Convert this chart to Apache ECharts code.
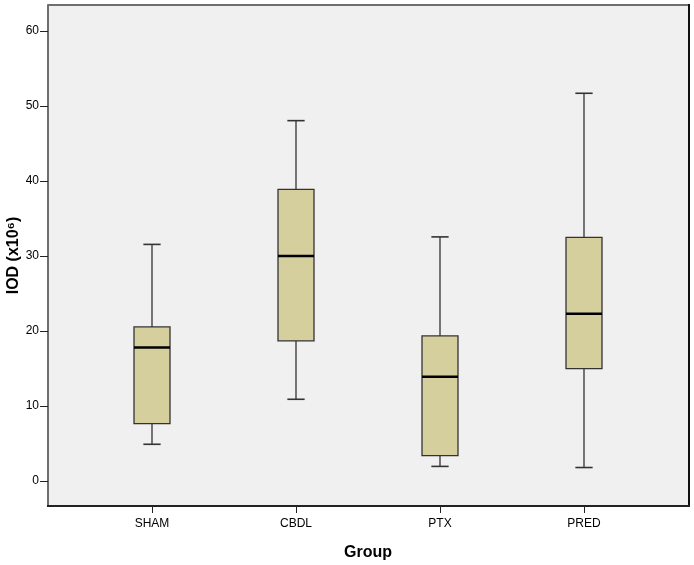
<!DOCTYPE html>
<html><head><meta charset="utf-8">
<script src="https://cdn.jsdelivr.net/npm/echarts@6/dist/echarts.min.js"></script>
<style>html,body{margin:0;padding:0;background:#fff}#c{width:694px;height:565px}</style>
</head><body><div id="c"></div>
<script>
const categories = ['SHAM', 'CBDL', 'PTX', 'PRED'];
// [min, Q1, median, Q3, max]
const mins    = [4.9, 10.9, 1.95, 1.8];
const q1s     = [7.65, 18.7, 3.4, 15.0];
const medians = [17.8, 30.0, 13.9, 22.3];
const q3s     = [20.55, 38.9, 19.35, 32.5];
const maxs    = [31.55, 48.05, 32.55, 51.7];
const yTicks  = [0, 10, 20, 30, 40, 50, 60];

const data = categories.map((c, i) => [i, mins[i], q1s[i], medians[i], q3s[i], maxs[i]]);
const FONT = '"Liberation Sans", Arial, Helvetica, sans-serif';

const chart = echarts.init(document.getElementById('c'));
chart.setOption({
  animation: false,
  backgroundColor: '#ffffff',
  graphic: [
    { type: 'rect', z: -10, silent: true, shape: { x: 48, y: 5, width: 641, height: 501 }, style: { fill: '#f0f0f0' } },
    { type: 'line', z: 10, silent: true, shape: { x1: 48, y1: 5, x2: 689, y2: 5 }, style: { stroke: '#6e6e6e', lineWidth: 2 } },
    { type: 'line', z: 10, silent: true, shape: { x1: 689, y1: 4, x2: 689, y2: 507 }, style: { stroke: '#111', lineWidth: 2 } },
    { type: 'line', z: 10, silent: true, shape: { x1: 47, y1: 506, x2: 690, y2: 506 }, style: { stroke: '#222', lineWidth: 2 } }
  ],
  grid: { left: 80, right: 38, top: 5, bottom: 59, containLabel: false, outerBoundsMode: 'none' },
  xAxis: {
    type: 'category',
    data: categories,
    axisLine: { show: false, onZero: false },
    axisTick: { show: true, alignWithLabel: true, length: 7, lineStyle: { color: '#222', width: 1 } },
    axisLabel: { color: '#000', fontSize: 12, fontFamily: FONT, margin: 12 },
    splitLine: { show: false },
    name: 'Group',
    nameLocation: 'middle',
    nameGap: 39,
    nameMoveOverlap: false,
    nameTextStyle: { color: '#000', fontSize: 16, fontWeight: 'bold', fontFamily: FONT }
  },
  yAxis: {
    type: 'value',
    min: -3.33,
    max: 63.47,
    offset: 32,
    axisLine: { show: true, lineStyle: { color: '#6e6e6e', width: 2 } },
    axisTick: { show: true, length: 8, customValues: yTicks, lineStyle: { color: '#222', width: 1 } },
    axisLabel: { customValues: yTicks, color: '#000', fontSize: 12, fontFamily: FONT, margin: 9 },
    splitLine: { show: false },
    name: 'IOD (x10⁶)',
    nameLocation: 'middle',
    nameGap: 26,
    nameMoveOverlap: false,
    nameTextStyle: { color: '#000', fontSize: 16, fontWeight: 'bold', fontFamily: FONT }
  },
  series: [{
    type: 'custom',
    data: data,
    encode: { x: 0, y: [1, 2, 3, 4, 5] },
    renderItem: function (params, api) {
      const x = api.value(0);
      const band = api.size([1, 0])[0];
      const bw = band * 0.25;
      const cw = band * 0.12;
      const pMin = api.coord([x, api.value(1)]);
      const pQ1 = api.coord([x, api.value(2)]);
      const pMed = api.coord([x, api.value(3)]);
      const pQ3 = api.coord([x, api.value(4)]);
      const pMax = api.coord([x, api.value(5)]);
      const cx = pMed[0];
      const line = (x1, y1, x2, y2, w, c) => ({ type: 'line', shape: { x1, y1, x2, y2 }, style: { stroke: c, lineWidth: w } });
      return {
        type: 'group',
        children: [
          line(cx, pMax[1], cx, pQ3[1], 1.2, '#222'),
          line(cx, pQ1[1], cx, pMin[1], 1.2, '#222'),
          line(cx - cw / 2, pMax[1], cx + cw / 2, pMax[1], 1.6, '#333'),
          line(cx - cw / 2, pMin[1], cx + cw / 2, pMin[1], 1.6, '#333'),
          { type: 'rect', shape: { x: cx - bw / 2, y: pQ3[1], width: bw, height: pQ1[1] - pQ3[1] }, style: { fill: '#d4cf9c', stroke: '#333', lineWidth: 1.3 } },
          line(cx - bw / 2, pMed[1], cx + bw / 2, pMed[1], 2.6, '#000')
        ]
      };
    }
  }]
});
</script></body></html>
